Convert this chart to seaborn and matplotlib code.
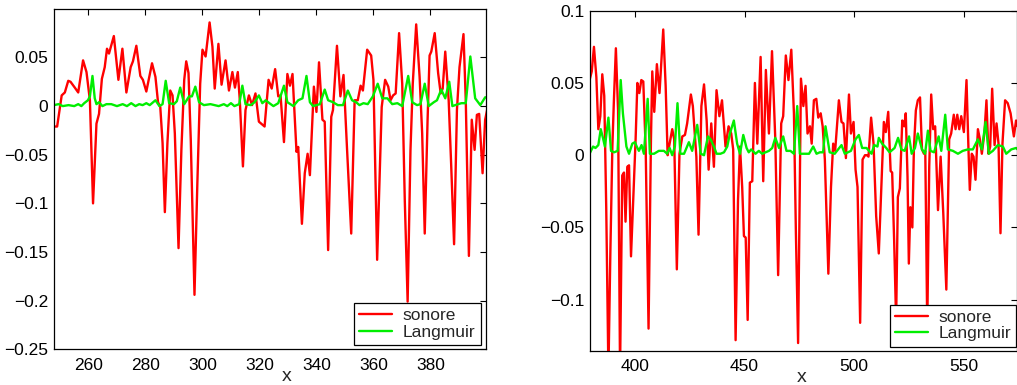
import numpy as np
import pandas as pd
import matplotlib
matplotlib.use("Agg")
import matplotlib.pyplot as plt
import seaborn as sns

sns.set_style("white")
plt.rcParams['font.family'] = ['Liberation Sans', 'DejaVu Sans']
plt.rcParams['axes.unicode_minus'] = True

# ---------------- data ----------------
left_sonore_x = [247.9, 249.0, 250.6, 251.7, 252.9, 253.7, 255.2, 256.4, 258.1, 259.3, 260.5, 261.6,
                 262.8, 263.7, 264.7, 265.7, 266.5, 267.2, 268.9, 270.5, 271.9, 273.3, 274.8, 275.6,
                 276.8, 278.2, 279.1, 280.3, 282.3, 283.5, 284.4, 285.2, 286.0, 286.8, 287.7, 288.7,
                 289.5, 290.3, 291.6, 292.6, 293.6, 294.3, 295.1, 295.9, 297.2, 298.2, 299.2, 300.0,
                 301.1, 302.5, 303.5, 304.3, 305.6, 306.7, 308.1, 309.3, 310.5, 311.4, 312.4, 313.1,
                 314.2, 315.1, 316.3, 317.4, 318.6, 319.8, 321.8, 323.2, 324.3, 325.5, 326.6, 327.4,
                 328.6, 329.8, 330.7, 331.6, 333.0, 333.6, 334.9, 335.9, 336.9, 337.7, 339.1, 340.0,
                 340.9, 342.1, 342.9, 344.1, 345.2, 345.8, 347.2, 348.4, 349.5, 350.7, 352.2, 353.4,
                 354.5, 355.5, 356.3, 357.8, 359.2, 360.0, 361.3, 362.9, 364.1, 365.2, 366.0, 366.9,
                 367.8, 369.0, 370.1, 371.0, 372.0, 373.0, 373.8, 375.0, 376.2, 377.1, 378.0, 379.0,
                 379.7, 380.3, 381.5, 382.7, 383.6, 384.3, 385.2, 386.4, 387.3, 388.3, 389.3, 390.2,
                 391.6, 392.4, 393.5, 394.5, 395.5, 396.3, 397.1, 398.3, 399.2, 400.1]
left_sonore_y = [-0.021, -0.021, 0.011, 0.014, 0.026, 0.025, 0.019, 0.014, 0.047, 0.035, 0.006, -0.100,
                 -0.018, -0.008, 0.028, 0.040, 0.059, 0.054, 0.072, 0.027, 0.059, 0.014, 0.040, 0.046,
                 0.062, 0.031, 0.027, 0.015, 0.044, 0.030, 0.004, -0.001, -0.038, -0.109, -0.038, 0.016,
                 0.011, -0.028, -0.146, -0.045, 0.027, 0.046, 0.034, -0.035, -0.194, -0.080, 0.023, 0.058,
                 0.051, 0.086, 0.061, 0.018, 0.064, 0.022, 0.047, 0.016, 0.035, 0.019, 0.035, 0.006,
                 -0.062, -0.004, 0.011, 0.001, 0.013, -0.016, -0.021, 0.027, 0.018, 0.038, 0.010, 0.011,
                 -0.037, 0.033, 0.021, 0.033, -0.047, -0.042, -0.121, -0.069, -0.049, -0.071, 0.020, -0.006,
                 0.045, -0.014, -0.016, -0.148, -0.011, -0.004, 0.062, 0.010, 0.032, -0.042, -0.131, 0.006,
                 0.006, 0.021, 0.016, 0.058, 0.052, 0.027, -0.158, -0.001, 0.027, 0.020, 0.006, 0.011,
                 0.013, 0.075, 0.023, -0.097, -0.201, -0.045, 0.023, 0.084, 0.030, -0.028, -0.131, -0.014,
                 0.052, 0.056, 0.075, 0.034, 0.013, 0.018, 0.056, 0.006, -0.062, -0.142, -0.004, 0.040,
                 0.074, 0.006, -0.154, -0.014, -0.045, -0.009, -0.008, -0.069, -0.014, -0.001]

left_langmuir_x = [247.9, 249.5, 251.0, 253.0, 255.0, 256.4, 257.5, 258.5, 259.8, 260.5, 261.4, 262.2,
                   262.8, 263.7, 264.9, 266.3, 268.0, 270.0, 272.0, 273.5, 275.0, 276.5, 277.8, 279.0,
                   280.3, 281.5, 283.5, 284.9, 286.0, 287.1, 288.3, 290.0, 291.0, 292.2, 293.6, 295.3,
                   296.3, 297.5, 298.8, 300.5, 302.8, 305.7, 307.5, 308.7, 310.0, 311.2, 312.9, 314.0,
                   315.1, 316.9, 318.3, 319.8, 321.0, 322.2, 323.5, 324.9, 326.6, 328.6, 329.8, 331.9,
                   333.6, 335.1, 336.5, 337.7, 338.8, 341.2, 342.9, 344.1, 345.8, 347.5, 349.3, 351.0,
                   352.5, 353.9, 355.1, 356.5, 358.0, 359.8, 361.5, 363.1, 364.9, 366.6, 368.4, 370.1,
                   372.2, 373.6, 375.3, 376.5, 378.0, 379.4, 381.2, 382.3, 383.8, 385.2, 386.6, 387.7,
                   389.7, 390.9, 392.4, 394.0, 395.7, 397.5, 399.2, 400.1]
left_langmuir_y = [0.001, 0.002, 0.000, 0.001, 0.000, 0.002, 0.000, 0.003, 0.006, 0.010, 0.031, 0.008,
                   0.002, 0.004, 0.000, 0.002, 0.002, 0.000, 0.002, 0.000, 0.003, 0.000, 0.002, 0.001,
                   0.003, 0.001, 0.006, 0.000, 0.002, 0.026, 0.003, 0.002, 0.005, 0.019, 0.002, 0.010,
                   0.010, 0.020, 0.004, 0.001, 0.002, 0.000, 0.002, 0.000, 0.003, 0.000, 0.002, 0.021,
                   0.002, 0.001, 0.004, 0.011, 0.003, 0.006, 0.003, 0.000, 0.003, 0.021, 0.004, 0.000,
                   0.006, 0.008, 0.031, 0.004, 0.000, 0.002, 0.017, 0.006, 0.004, 0.001, 0.001, 0.016,
                   0.006, 0.004, 0.001, 0.003, 0.002, 0.010, 0.023, 0.008, 0.008, 0.002, 0.003, 0.000,
                   0.031, 0.004, 0.001, 0.002, 0.023, 0.000, 0.004, 0.006, 0.017, 0.008, 0.025, 0.000,
                   0.002, 0.003, 0.003, 0.051, 0.008, 0.001, 0.009, 0.009]

right_sonore_x = [379.3, 380.3, 381.3, 382.4, 383.3, 384.2, 385.1, 386.0, 386.9, 387.9, 388.8, 389.7,
                  390.4, 391.3, 392.3, 393.2, 394.2, 395.0, 395.7, 396.5, 397.3, 398.2, 399.2, 400.3,
                  401.1, 402.0, 402.9, 403.8, 404.9, 406.2, 407.3, 407.9, 408.8, 410.0, 411.2, 412.9,
                  414.0, 414.9, 415.8, 417.0, 417.9, 419.1, 420.3, 421.6, 422.8, 423.8, 425.5, 426.4,
                  428.0, 429.0, 430.3, 431.5, 432.7, 433.6, 434.8, 436.0, 437.2, 438.5, 439.7, 441.3,
                  442.7, 443.9, 444.8, 445.9, 447.0, 447.9, 448.9, 449.7, 450.5, 451.4, 452.4, 453.5,
                  454.7, 455.8, 457.3, 458.5, 459.7, 461.1, 462.5, 464.0, 465.3, 466.7, 467.6, 468.8,
                  470.0, 471.3, 472.5, 473.4, 474.4, 475.7, 476.8, 477.8, 478.7, 479.8, 480.6, 481.6,
                  482.7, 483.6, 484.7, 485.6, 486.6, 488.2, 489.4, 490.4, 491.3, 493.0, 494.2, 495.1,
                  496.2, 497.6, 498.5, 499.7, 500.6, 501.5, 502.7, 503.8, 504.9, 505.8, 506.5, 507.7,
                  508.8, 510.0, 511.2, 512.5, 513.5, 514.4, 515.5, 516.6, 517.3, 518.2, 519.1, 519.9,
                  520.8, 521.9, 522.8, 523.5, 524.3, 524.9, 525.6, 526.5, 527.2, 528.1, 529.0, 530.0,
                  530.9, 531.8, 532.4, 533.3, 534.2, 535.1, 536.0, 536.9, 538.2, 539.4, 540.6, 542.0,
                  543.3, 544.2, 545.4, 546.2, 547.0, 547.9, 548.8, 550.0, 551.2, 552.1, 552.7, 553.6,
                  554.4, 555.3, 556.4, 557.3, 558.2, 559.4, 560.3, 561.2, 562.0, 562.9, 564.0, 564.9,
                  565.8, 566.7, 567.6, 568.8, 570.0, 571.3, 572.8, 573.8, 574.5]
right_sonore_y = [0.052, 0.058, 0.075, 0.054, 0.018, 0.027, 0.056, 0.041, -0.036, -0.150, -0.066, 0.006,
                  0.038, 0.074, 0.031, -0.150, -0.014, -0.012, -0.046, -0.008, -0.007, -0.070, -0.031, 0.011,
                  0.050, 0.043, 0.052, 0.051, 0.004, -0.120, 0.011, 0.058, 0.030, 0.063, 0.043, 0.087,
                  0.048, 0.000, 0.008, 0.018, 0.011, -0.079, 0.001, 0.013, 0.014, 0.022, 0.042, 0.034,
                  -0.001, -0.055, 0.034, 0.049, 0.024, -0.010, 0.022, -0.008, 0.045, 0.027, 0.038, 0.006,
                  0.020, 0.015, 0.004, -0.128, -0.031, 0.006, -0.022, -0.056, -0.057, -0.114, -0.019, -0.018,
                  0.050, 0.008, 0.068, -0.018, 0.059, 0.015, 0.072, 0.011, -0.083, 0.022, 0.027, 0.069,
                  0.052, 0.073, 0.029, -0.054, -0.130, 0.053, 0.034, 0.048, 0.015, 0.020, 0.008, 0.038,
                  0.039, 0.026, 0.029, 0.020, -0.003, -0.082, -0.022, 0.008, 0.003, 0.038, 0.023, 0.022,
                  -0.002, 0.042, 0.015, 0.023, -0.010, -0.022, -0.116, -0.003, 0.000, 0.000, -0.001, 0.026,
                  0.008, -0.042, -0.068, -0.017, 0.023, 0.016, 0.030, -0.011, -0.012, -0.059, -0.115, -0.029,
                  -0.023, 0.024, 0.020, 0.029, -0.015, -0.075, -0.036, -0.050, 0.004, 0.031, 0.038, 0.040,
                  0.004, 0.001, 0.003, -0.120, -0.008, 0.042, 0.018, 0.020, -0.038, -0.001, -0.040, -0.093,
                  0.011, 0.015, 0.028, 0.018, 0.028, 0.018, 0.027, 0.016, 0.052, 0.004, -0.024, 0.001,
                  -0.001, -0.017, 0.018, 0.011, 0.001, 0.016, 0.038, 0.001, 0.006, 0.046, 0.007, 0.022,
                  0.008, -0.054, 0.008, 0.038, 0.036, 0.029, 0.013, 0.024, 0.020]

right_langmuir_x = [379.3, 380.9, 382.0, 383.3, 384.4, 385.4, 386.3, 387.9, 389.1, 390.5, 392.1, 393.5,
                    394.5, 396.1, 397.3, 398.8, 400.0, 400.8, 401.8, 403.0, 404.1, 405.8, 406.8, 408.7,
                    410.9, 413.2, 414.7, 415.8, 417.0, 418.2, 419.4, 420.7, 422.4, 424.6, 426.1, 428.4,
                    430.0, 431.5, 433.3, 434.5, 436.0, 437.2, 439.0, 440.6, 442.1, 443.3, 445.1, 446.6,
                    447.9, 449.4, 450.9, 451.9, 453.0, 455.0, 456.5, 458.0, 461.1, 462.6, 464.0, 465.7,
                    467.6, 469.1, 470.9, 472.5, 474.0, 475.2, 477.8, 479.4, 481.3, 482.8, 484.3, 485.8,
                    486.9, 488.8, 491.1, 494.2, 495.7, 498.5, 500.6, 502.1, 503.6, 505.6, 507.9, 509.1,
                    510.6, 511.2, 512.7, 514.6, 516.1, 518.4, 520.0, 521.5, 523.0, 525.0, 526.2, 527.7,
                    529.0, 530.9, 532.3, 533.6, 534.8, 536.4, 538.5, 539.7, 541.5, 542.7, 545.0, 547.3,
                    549.5, 551.8, 554.1, 556.4, 558.2, 559.9, 561.4, 563.2, 565.5, 567.8, 569.3, 571.6,
                    573.8, 574.5]
right_langmuir_y = [0.001, 0.006, 0.005, 0.007, 0.018, 0.012, 0.006, 0.026, 0.003, 0.002, 0.003, 0.052,
                    0.029, 0.006, 0.001, 0.008, 0.009, 0.006, 0.003, 0.007, 0.001, 0.039, 0.001, 0.001,
                    0.003, 0.003, 0.001, 0.005, 0.000, 0.006, 0.036, 0.001, 0.001, 0.009, 0.003, 0.021,
                    0.001, 0.000, 0.013, 0.011, 0.006, 0.001, 0.001, 0.002, 0.006, 0.015, 0.024, 0.008,
                    0.001, 0.014, 0.005, 0.002, 0.004, 0.001, 0.003, 0.001, 0.003, 0.005, 0.012, 0.005,
                    0.013, 0.003, 0.003, 0.001, 0.034, 0.001, 0.001, 0.001, 0.006, 0.001, 0.002, 0.002,
                    0.020, 0.002, 0.001, 0.007, 0.001, 0.003, 0.011, 0.014, 0.005, 0.005, 0.001, 0.007,
                    0.006, 0.012, 0.008, 0.005, 0.002, 0.005, 0.012, 0.004, 0.003, 0.013, 0.001, 0.005,
                    0.015, 0.004, 0.001, 0.017, 0.003, 0.002, 0.013, 0.003, 0.028, 0.004, 0.003, 0.001,
                    0.003, 0.004, 0.004, 0.011, 0.004, 0.023, 0.001, 0.003, 0.007, 0.006, 0.001, 0.004,
                    0.005, 0.004]

series_names = ["sonore", "Langmuir"]
series_colors = ["#ff0000", "#00ee00"]

left_xticks = [260, 280, 300, 320, 340, 360, 380]
left_yticks = [-0.25, -0.2, -0.15, -0.1, -0.05, 0, 0.05]
left_ylabels = ["\u22120.25", "\u22120.2", "\u22120.15", "\u22120.1", "\u22120.05", "0", "0.05"]
right_xticks = [400, 450, 500, 550]
right_yticks = [-0.1, -0.05, 0, 0.05, 0.1]
right_ylabels = ["\u22120.1", "\u22120.05", "0", "0.05", "0.1"]

# ---------------- figure ----------------
fig = plt.figure(figsize=(10.17, 3.85), dpi=100)
W, H = 1017, 385
ax1 = fig.add_axes([54 / W, (H - 349.3) / H, 432 / W, 340 / H])
ax2 = fig.add_axes([590 / W, (H - 350.7) / H, 426.5 / W, 340 / H])

FS = 12.5

def draw(ax, sx, sy, lx, ly, xlim, ylim, xticks, yticks, ylabels, xlab_x, leg_anchor):
    sns.lineplot(x=sx, y=sy, ax=ax, color=series_colors[0], lw=1.7, label=series_names[0],
                 estimator=None, sort=False)
    sns.lineplot(x=lx, y=ly, ax=ax, color=series_colors[1], lw=1.7, label=series_names[1],
                 estimator=None, sort=False)
    ax.set_xlim(*xlim)
    ax.set_ylim(*ylim)
    ax.set_xticks(xticks)
    ax.set_xticklabels([str(t) for t in xticks])
    ax.set_yticks(yticks)
    ax.set_yticklabels(ylabels)
    ax.tick_params(direction='in', length=4, width=0.8, top=True, right=True,
                   labelsize=FS, colors='black')
    ax.tick_params(axis='y', pad=4)
    ax.tick_params(axis='x', pad=6)
    for s in ax.spines.values():
        s.set_visible(True)
        s.set_color('black')
        s.set_linewidth(0.9)
    ax.set_xlabel("x", fontsize=14)
    ax.xaxis.set_label_coords(xlab_x, -0.055)
    ax.set_ylabel("")
    leg = ax.legend(loc='lower right', bbox_to_anchor=leg_anchor, borderaxespad=0,
                    fontsize=FS, fancybox=False, framealpha=1, edgecolor='black',
                    handlelength=1.9, handletextpad=0.6, borderpad=0.3, labelspacing=0.08)
    leg.get_frame().set_linewidth(0.9)

draw(ax1, left_sonore_x, left_sonore_y, left_langmuir_x, left_langmuir_y,
     (247.9, 399.5), (-0.25, 0.0995), left_xticks, left_yticks, left_ylabels,
     0.539, (0.9877, 0.0127))
draw(ax2, right_sonore_x, right_sonore_y, right_langmuir_x, right_langmuir_y,
     (379.5, 574.0), (-0.1353, 0.1), right_xticks, right_yticks, right_ylabels,
     0.497, (0.9995, 0.012))

fig.savefig("out.png", dpi=100)
